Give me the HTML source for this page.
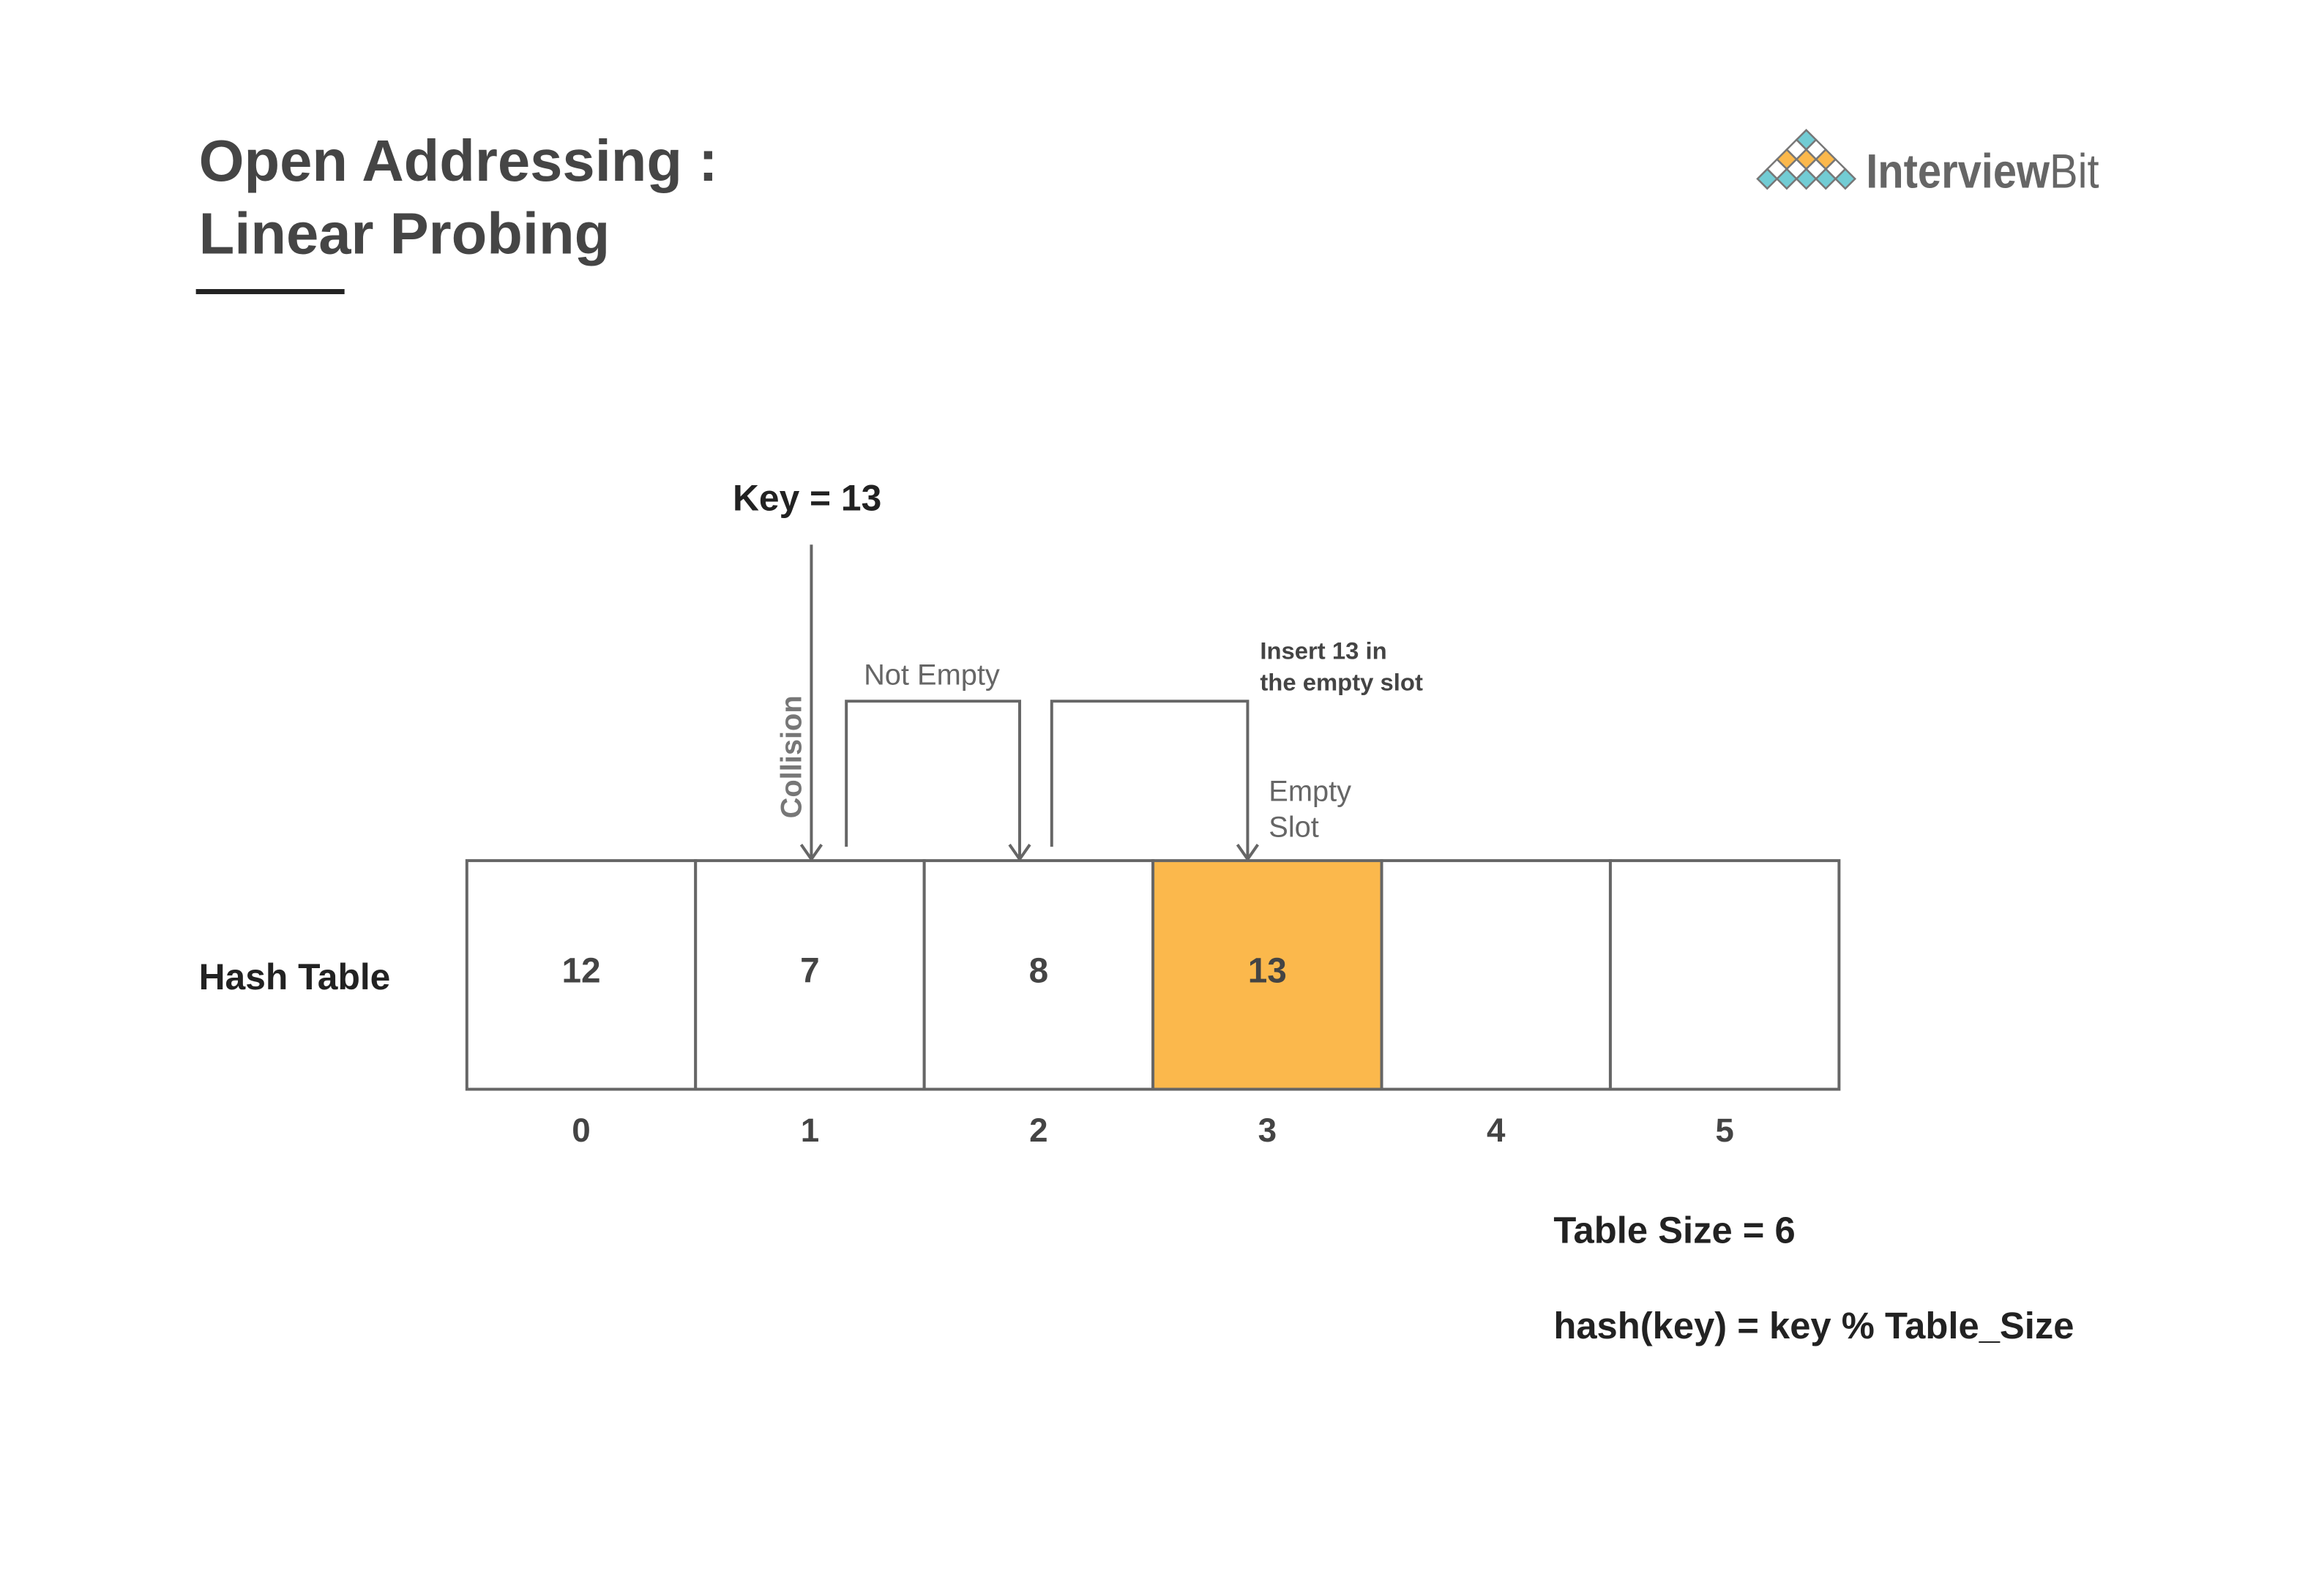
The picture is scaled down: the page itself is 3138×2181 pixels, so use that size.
<!DOCTYPE html>
<html><head><meta charset="utf-8"><style>
html,body{margin:0;padding:0;background:#fff;}
svg{display:block;font-family:"Liberation Sans",sans-serif;}
</style></head><body>
<svg id="s" width="3138" height="2181" viewBox="0 0 3138 2181">
<rect width="3138" height="2181" fill="#fff"/>
<g transform="scale(0.995)">
<text x="273" y="248" font-size="80" font-weight="bold" fill="#454545">Open Addressing :</text>
<text x="273" y="348" font-size="80" font-weight="bold" fill="#454545">Linear Probing</text>
<rect x="269" y="397" width="204" height="7" fill="#222"/>
<g id="logo"></g>
<text x="2562" y="258" font-size="66" fill="#666" textLength="320" lengthAdjust="spacingAndGlyphs"><tspan font-weight="bold">Interview</tspan><tspan>Bit</tspan></text>

<text x="1006" y="701" font-size="50" font-weight="bold" fill="#222">Key = 13</text>
<g stroke="#666" stroke-width="4" fill="none">
<line x1="1114" y1="748" x2="1114" y2="1180"/>
<polyline points="1100,1160 1114,1180 1128,1160"/>
<polyline points="1162,1163 1162,963 1400,963 1400,1180"/>
<polyline points="1386,1160 1400,1180 1414,1160"/>
<polyline points="1444,1163 1444,963 1713,963 1713,1180"/>
<polyline points="1699,1160 1713,1180 1727,1160"/>
</g>
<text transform="translate(1100,1124) rotate(-90)" font-size="40" font-weight="bold" fill="#777">Collision</text>
<text x="1186" y="940" font-size="40" fill="#666">Not Empty</text>
<text x="1730" y="905" font-size="33" font-weight="bold" fill="#444">Insert 13 in</text>
<text x="1730" y="948" font-size="33" font-weight="bold" fill="#444">the empty slot</text>
<text x="1742" y="1100" font-size="40" fill="#666">Empty</text>
<text x="1742" y="1149" font-size="40" fill="#666">Slot</text>
<text x="273" y="1359" font-size="50" font-weight="bold" fill="#222">Hash Table</text>
<g id="table"></g>
<text x="2133" y="1707" font-size="51" font-weight="bold" fill="#222">Table Size = 6</text>
<text x="2133" y="1838" font-size="51" font-weight="bold" fill="#222">hash(key) = key % Table_Size</text>
</g>
</svg>
<script>
const indices=["0","1","2","3","4","5"];
const values=["12","7","8","13","",""];
const highlighted=[false,false,false,true,false,false];
(function(){
const NS="http://www.w3.org/2000/svg";
const tLeft=641,cw=314,tTop=1182,ch=314;
const g=document.getElementById('table');
indices.forEach((idx,i)=>{
  const x=tLeft+i*cw;
  const r=document.createElementNS(NS,'rect');
  r.setAttribute('x',x);r.setAttribute('y',tTop);r.setAttribute('width',cw);r.setAttribute('height',ch);
  r.setAttribute('fill',highlighted[i]?'#fbb84c':'#fff');r.setAttribute('stroke','#666');r.setAttribute('stroke-width','4');
  
  
  g.appendChild(r);
  const t=document.createElementNS(NS,'text');
  t.setAttribute('x',x+cw/2);t.setAttribute('y',tTop+ch/2+10);t.setAttribute('text-anchor','middle');
  t.setAttribute('font-size','48');t.setAttribute('font-weight','bold');t.setAttribute('fill','#444');
  t.textContent=values[i];
  
  
  g.appendChild(t);
  const n=document.createElementNS(NS,'text');
  n.setAttribute('x',x+cw/2);n.setAttribute('y',1568);n.setAttribute('text-anchor','middle');
  n.setAttribute('font-size','46');n.setAttribute('font-weight','bold');n.setAttribute('fill','#444');
  n.textContent=idx;
  
  
  g.appendChild(n);
});
const lg=document.getElementById('logo');
const rows=[["#72ccd4"],["#fff","#fff"],["#fbb84c","#fbb84c","#fbb84c"],["#fff","#fff","#fff","#fff"],["#72ccd4","#72ccd4","#72ccd4","#72ccd4","#72ccd4"]];
const cx0=2480,cy0=192,st=26.8,h=13.4;
rows.forEach((row,ri)=>{row.forEach((c,ci)=>{
  const cx=cx0-ri*st/2+ci*st, cy=cy0+ri*h;
  const p=document.createElementNS(NS,'polygon');
  p.setAttribute('points',`${cx},${cy-h} ${cx+h},${cy} ${cx},${cy+h} ${cx-h},${cy}`);
  p.setAttribute('fill',c);p.setAttribute('stroke','#777');p.setAttribute('stroke-width','2.5');
  
  
  lg.appendChild(p);
});});
})();
</script>
</body></html>
